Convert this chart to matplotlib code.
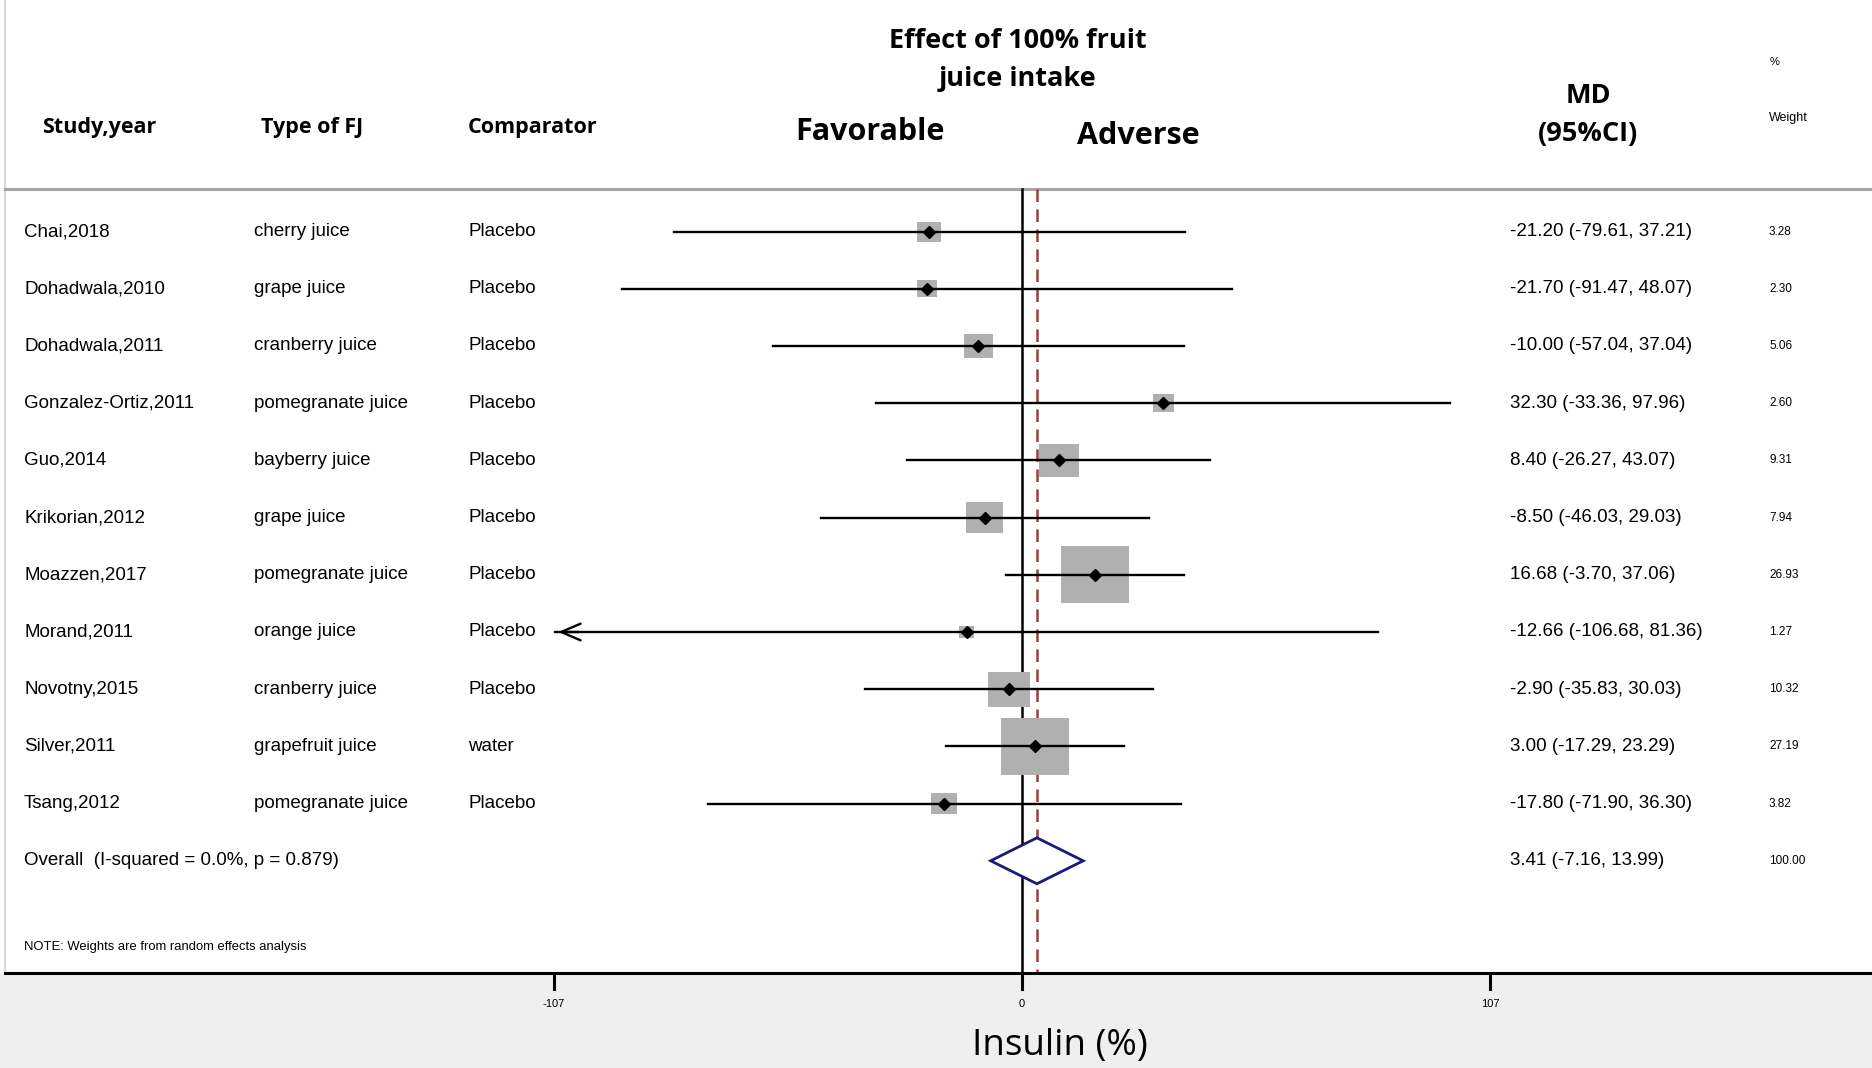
import numpy as np
import matplotlib
matplotlib.use("Agg")
import matplotlib.pyplot as plt
from matplotlib.patches import Rectangle, Polygon

# ---- data ----
studies = ["Chai,2018", "Dohadwala,2010", "Dohadwala,2011", "Gonzalez-Ortiz,2011",
           "Guo,2014", "Krikorian,2012", "Moazzen,2017", "Morand,2011",
           "Novotny,2015", "Silver,2011", "Tsang,2012"]
juice_types = ["cherry juice", "grape juice", "cranberry juice", "pomegranate juice",
               "bayberry juice", "grape juice", "pomegranate juice", "orange juice",
               "cranberry juice", "grapefruit juice", "pomegranate juice"]
comparators = ["Placebo"] * 9 + ["water", "Placebo"]
md = [-21.20, -21.70, -10.00, 32.30, 8.40, -8.50, 16.68, -12.66, -2.90, 3.00, -17.80]
ci_low = [-79.61, -91.47, -57.04, -33.36, -26.27, -46.03, -3.70, -106.68, -35.83, -17.29, -71.90]
ci_high = [37.21, 48.07, 37.04, 97.96, 43.07, 29.03, 37.06, 81.36, 30.03, 23.29, 36.30]
weights = [3.28, 2.30, 5.06, 2.60, 9.31, 7.94, 26.93, 1.27, 10.32, 27.19, 3.82]
overall_md, overall_low, overall_high = 3.41, -7.16, 13.99
overall_label = "Overall  (I-squared = 0.0%, p = 0.879)"
axis_ticks = [-107, 0, 107]

# ---- layout (figure pixels) ----
W, H = 1872, 1068
PX_ZERO = 1022.0          # pixel x of 0
PX_PER_UNIT = 468.0 / 107  # pixel per unit
ROW0, ROW_STEP = 231.6, 57.2
TOP_LINE, AXIS_LINE = 189, 973

fig = plt.figure(figsize=(W / 100, H / 100), dpi=100)
ax = fig.add_axes([0, 0, 1, 1])
ax.set_xlim(-PX_ZERO / PX_PER_UNIT, (W - PX_ZERO) / PX_PER_UNIT)
ax.set_ylim(H, 0)
ax.axis("off")
cols = ax.get_yaxis_transform()  # x in axes fraction, y in pixel units

def fx(px):
    return px / W

sans = ["Liberation Sans", "DejaVu Sans"]
head = ["Open Sans", "DejaVu Sans"]
ROW_FS = 13.5
W_FS = 8.5

# background pieces
ax.axhspan(AXIS_LINE, H, color="#efefef", zorder=0)
ax.plot([fx(5), fx(5)], [0, AXIS_LINE], transform=cols, color="#d9d9d9", lw=1.5)
ax.plot([fx(5), 1], [TOP_LINE, TOP_LINE], transform=cols, color="#a6a6a6", lw=2.2)

# headers
ax.text(fx(42), 128, "Study,year", transform=cols, fontsize=15.5, fontweight="bold",
        family=head, va="center")
ax.text(fx(261), 128, "Type of FJ", transform=cols, fontsize=15.5, fontweight="bold",
        family=head, va="center")
ax.text(fx(468), 128, "Comparator", transform=cols, fontsize=15.5, fontweight="bold",
        family=head, va="center")
ax.text(fx(1018), 60, "Effect of 100% fruit\njuice intake", transform=cols, fontsize=19.5,
        fontweight="bold", family=head, ha="center", va="center", linespacing=1.6)
ax.text(fx(870), 132, "Favorable", transform=cols, fontsize=22, fontweight="bold",
        family=head, ha="center", va="center")
ax.text(fx(1138), 136, "Adverse", transform=cols, fontsize=22, fontweight="bold",
        family=head, ha="center", va="center")
ax.text(fx(1588), 115, "MD\n(95%CI)", transform=cols, fontsize=19.5, fontweight="bold",
        family=head, ha="center", va="center", linespacing=1.6)
ax.text(fx(1770), 62, "%", transform=cols, fontsize=8, family=sans, va="center")
ax.text(fx(1769), 118, "Weight", transform=cols, fontsize=9, family=sans, va="center")

rows = ROW0 + ROW_STEP * np.arange(len(studies))
y_overall = ROW0 + ROW_STEP * len(studies)
xmin = -107

# reference lines
ax.plot([0, 0], [TOP_LINE, AXIS_LINE], color="black", lw=1.8, zorder=2)
ax.plot([overall_md, overall_md], [TOP_LINE, AXIS_LINE], color="#9e3b40", lw=1.8,
        dashes=(5, 3), zorder=2)

for i, y in enumerate(rows):
    lo = max(ci_low[i], xmin)
    ax.plot([lo, ci_high[i]], [y, y], color="black", lw=1.7, zorder=3)
    if ci_low[i] <= xmin + 1:
        ax.annotate("", xy=(lo, y), xytext=(lo + 6, y),
                    arrowprops=dict(arrowstyle="->,head_length=1.4,head_width=0.6",
                                    color="black", lw=1.7), zorder=3)
    bw = 2.988 * np.sqrt(weights[i])
    bh = 11.0 * np.sqrt(weights[i])
    ax.add_patch(Rectangle((md[i] - bw / 2, y - bh / 2), bw, bh, facecolor="#b0b0b0",
                           edgecolor="none", zorder=2.5))
    ax.plot(md[i], y, marker="D", color="black", markersize=6, zorder=4)

    ax.text(fx(24), y, studies[i], transform=cols, fontsize=ROW_FS, family=sans, va="center")
    ax.text(fx(254), y, juice_types[i], transform=cols, fontsize=ROW_FS, family=sans,
            va="center")
    ax.text(fx(468), y, comparators[i], transform=cols, fontsize=ROW_FS, family=sans,
            va="center")
    ax.text(fx(1510), y, f"{md[i]:.2f} ({ci_low[i]:.2f}, {ci_high[i]:.2f})", transform=cols,
            fontsize=ROW_FS, family=sans, va="center")
    ax.text(fx(1769), y, f"{weights[i]:.2f}", transform=cols, fontsize=W_FS, family=sans,
            va="center")

# overall diamond
dh = 23
ax.add_patch(Polygon([(overall_low, y_overall), (overall_md, y_overall - dh),
                      (overall_high, y_overall), (overall_md, y_overall + dh)],
                     closed=True, facecolor="white", edgecolor="#1a1a7a", lw=2, zorder=3))
ax.text(fx(24), y_overall, overall_label, transform=cols, fontsize=ROW_FS, family=sans,
        va="center")
ax.text(fx(1510), y_overall, f"{overall_md:.2f} ({overall_low:.2f}, {overall_high:.2f})",
        transform=cols, fontsize=ROW_FS, family=sans, va="center")
ax.text(fx(1769), y_overall, "100.00", transform=cols, fontsize=W_FS, family=sans,
        va="center")

ax.text(fx(24), 947, "NOTE: Weights are from random effects analysis", transform=cols,
        fontsize=9.4, family=sans, va="center")

# x axis
ax.plot([fx(5), 1], [AXIS_LINE, AXIS_LINE], transform=cols, color="black", lw=2.2, zorder=4)
for t in axis_ticks:
    ax.plot([t, t], [AXIS_LINE, AXIS_LINE + 16], color="black", lw=2.2, zorder=4)
    ax.text(t, 1004, f"{t}", fontsize=8, family=sans, ha="center", va="center")
ax.text(fx(1060), 1046, "Insulin (%)", transform=cols, fontsize=26.5, family=head,
        ha="center", va="center")

fig.savefig("out.png", dpi=100)
